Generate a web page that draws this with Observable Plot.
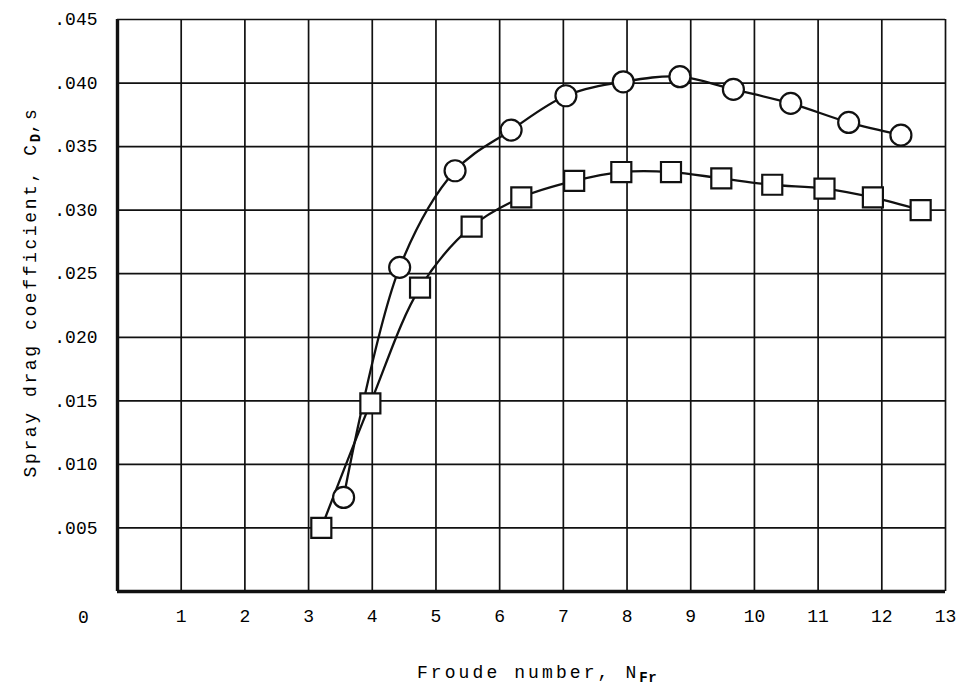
<!DOCTYPE html>
<html>
<head>
<meta charset="utf-8">
<script src="https://cdn.jsdelivr.net/npm/d3@7"></script>
<script src="https://cdn.jsdelivr.net/npm/@observablehq/plot@0.6"></script>
<style>
  html, body { margin: 0; padding: 0; background: #fff; }
  #chart svg { display: block; }
</style>
</head>
<body>
<div id="chart"></div>
<script>
// Circle series (Froude number, spray drag coefficient)
const circleFr = [3.55, 4.43, 5.30, 6.18, 7.04, 7.94, 8.83, 9.67, 10.57, 11.48, 12.30];
const circleCd = [0.0074, 0.0255, 0.0331, 0.0363, 0.0390, 0.0401, 0.0405, 0.0395, 0.0384, 0.0369, 0.0359];
// Square series
const squareFr = [3.20, 3.97, 4.75, 5.56, 6.34, 7.17, 7.91, 8.69, 9.48, 10.28, 11.10, 11.86, 12.61];
const squareCd = [0.0050, 0.0148, 0.0239, 0.0287, 0.0310, 0.0323, 0.0330, 0.0330, 0.0325, 0.0320, 0.0317, 0.0310, 0.0300];
// Ticks
const xTicks = [1, 2, 3, 4, 5, 6, 7, 8, 9, 10, 11, 12, 13];
const yTicks = [0.005, 0.010, 0.015, 0.020, 0.025, 0.030, 0.035, 0.040, 0.045];
const xTitle = "Froude number, ";
const yTitle = "Spray drag coefficient, ";

const circles = circleFr.map((x, i) => ({x, y: circleCd[i]}));
const squares = squareFr.map((x, i) => ({x, y: squareCd[i]}));

const font = "'Liberation Mono', 'DejaVu Sans Mono', monospace";

const chart = Plot.plot({
  width: 960,
  height: 697,
  marginLeft: 117,
  marginRight: 15,
  marginTop: 19,
  marginBottom: 106,
  style: {fontFamily: font, fontSize: "18px", color: "#000", background: "#fff"},
  x: {domain: [0, 13]},
  y: {domain: [0, 0.045]},
  marks: [
    Plot.ruleX(xTicks, {stroke: "#111", strokeWidth: 1.7}),
    Plot.ruleY(yTicks, {stroke: "#111", strokeWidth: 1.7}),
    Plot.ruleX([0], {stroke: "#111", strokeWidth: 3.4}),
    Plot.ruleY([0], {stroke: "#111", strokeWidth: 3.4}),
    Plot.axisX(xTicks, {tickSize: 0, tickPadding: 18, label: null, fontSize: 18, fill: "#000"}),
    Plot.axisY(yTicks, {tickSize: 0, tickPadding: 20, label: null, fontSize: 18, fill: "#000",
      tickFormat: d => d.toFixed(3).slice(1)}),
    Plot.text([0], {x: d => d, y: 0, text: d => String(d), dx: -34, dy: 26, fontSize: 18, fill: "#000"}),
    Plot.line(circles, {x: "x", y: "y", curve: "catmull-rom", stroke: "#111", strokeWidth: 2.3}),
    Plot.line(squares, {x: "x", y: "y", curve: "catmull-rom", stroke: "#111", strokeWidth: 2.3}),
    Plot.dot(circles, {x: "x", y: "y", symbol: "circle", r: 10.5, fill: "#fff", stroke: "#111", strokeWidth: 2.2}),
    Plot.dot(squares, {x: "x", y: "y", symbol: "square", r: 11.3, fill: "#fff", stroke: "#111", strokeWidth: 2.2})
  ]
});

const svg = d3.select(chart);
// X axis title with subscript
const xt = svg.append("text")
  .attr("x", 537).attr("y", 678)
  .attr("text-anchor", "middle")
  .attr("font-family", font).attr("font-size", 18)
  .attr("letter-spacing", 3.1)
  .attr("fill", "#000");
xt.append("tspan").text(xTitle + "N");
xt.append("tspan").attr("dy", 4).attr("font-size", 14).attr("font-weight", "bold").attr("letter-spacing", 0.5).text("Fr");

// Y axis title with subscript
const yt = svg.append("text")
  .attr("transform", "translate(36,292) rotate(-90)")
  .attr("text-anchor", "middle")
  .attr("font-family", font).attr("font-size", 18)
  .attr("letter-spacing", 2.6)
  .attr("fill", "#000");
yt.append("tspan").text(yTitle + "C");
yt.append("tspan").attr("dy", 4).attr("font-size", 14).attr("font-weight", "bold").attr("letter-spacing", 0.5).text("D");
yt.append("tspan").attr("dy", -4).text(",s");

document.getElementById("chart").appendChild(chart);
</script>
</body>
</html>
